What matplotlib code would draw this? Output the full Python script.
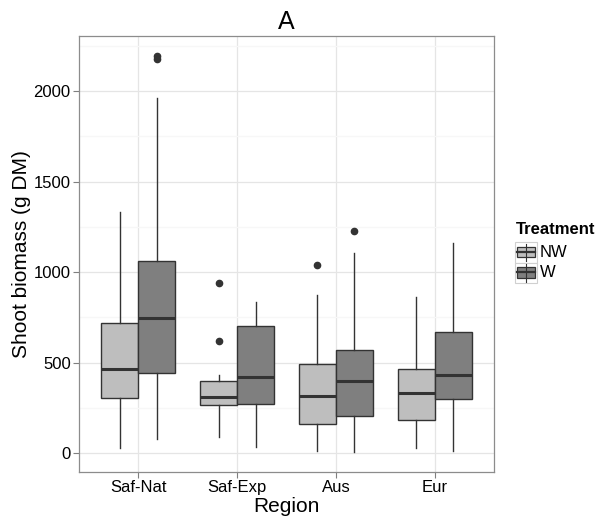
import matplotlib
matplotlib.use("Agg")
import matplotlib.pyplot as plt
from matplotlib.patches import Rectangle
from matplotlib.lines import Line2D

plt.rcParams["font.family"] = ["Liberation Sans", "DejaVu Sans"]

regions = ["Saf-Nat", "Saf-Exp", "Aus", "Eur"]
treatments = ["NW", "W"]
fills = {"NW": "#BEBEBE", "W": "#7F7F7F"}

# five-number summaries per region: (whislo, q1, med, q3, whishi)
nw_stats = [(29, 305, 467, 721, 1333),
            (90, 266, 310, 397, 435),
            (11, 161, 316, 492, 876),
            (29, 184, 331, 465, 865)]
w_stats = [(79, 445, 746, 1063, 1960),
           (35, 275, 422, 701, 837),
           (6, 206, 402, 569, 1104),
           (15, 301, 434, 672, 1161)]
nw_outliers = [[], [619, 940], [1041], []]
w_outliers = [[2176, 2193], [], [1227], []]

W, H = 598, 523
fig = plt.figure(figsize=(W/100, H/100), dpi=100)
L, R, T, B = 79, 494, 36, 472
ax = fig.add_axes([L/W, 1-B/H, (R-L)/W, (B-T)/H])

edge = "#333333"
def draw(stats, outs, offset, color):
    bx = []
    for (lo, q1, med, q3, hi), fl in zip(stats, outs):
        bx.append(dict(whislo=lo, q1=q1, med=med, q3=q3, whishi=hi, fliers=fl))
    pos = [i + 1 + offset for i in range(len(stats))]
    ax.bxp(bx, positions=pos, widths=0.375, patch_artist=True, showcaps=False,
           boxprops=dict(facecolor=color, edgecolor=edge, linewidth=1.0),
           medianprops=dict(color=edge, linewidth=2.2),
           whiskerprops=dict(color=edge, linewidth=1.0),
           flierprops=dict(marker="o", markerfacecolor=edge, markeredgecolor=edge, markersize=4.5),
           manage_ticks=False, zorder=3)

draw(nw_stats, nw_outliers, -0.1875, fills["NW"])
draw(w_stats, w_outliers, 0.1875, fills["W"])

ax.set_xlim(0.4, 4.6)
ax.set_ylim(-103, 2304)
ax.set_xticks(range(1, 5))
ax.set_xticklabels(regions)
ax.set_yticks([0, 500, 1000, 1500, 2000])
ax.set_yticks([250, 750, 1250, 1750, 2250], minor=True)
ax.grid(True, which="major", color="#E5E5E5", linewidth=0.9, zorder=0)
ax.grid(True, which="minor", axis="y", color="#F7F7F7", linewidth=0.9, zorder=0)
ax.set_axisbelow(True)
for s in ax.spines.values():
    s.set_color("#8C8C8C")
    s.set_linewidth(0.9)
ax.tick_params(axis="both", which="major", labelsize=12, colors="#7F7F7F", length=4,
               width=0.8, labelcolor="black", pad=2)
ax.tick_params(axis="y", which="minor", length=0)
ax.set_xlabel("Region", fontsize=15)
ax.set_ylabel("Shoot biomass (g DM)", fontsize=15)
ax.xaxis.set_label_coords(0.5, (B-507)/(B-T))
ax.yaxis.set_label_coords((22-L)/(R-L), 0.5)
ax.xaxis.label.set_va("center")
ax.yaxis.label.set_va("center")
ax.text(0.5, 1+(T-22)/(B-T), "A", transform=ax.transAxes, ha="center", va="center", fontsize=18)

# legend drawn in pixel coordinates on an overlay axes
lax = fig.add_axes([0, 0, 1, 1], zorder=5)
lax.set_xlim(0, W)
lax.set_ylim(H, 0)
lax.axis("off")
lax.text(516, 229, "Treatment", fontsize=12, fontweight="bold", ha="left", va="center")
kx0, kw, kh = 515, 22, 20.5
for i, t in enumerate(treatments):
    ky0 = 242 + i * kh
    lax.add_patch(Rectangle((kx0, ky0), kw, kh, facecolor="white", edgecolor="#D0D0D0", linewidth=0.8))
    cx = kx0 + kw / 2
    lax.add_line(Line2D([cx, cx], [ky0 + 1.5, ky0 + kh - 1.5], color=edge, linewidth=0.8))
    lax.add_patch(Rectangle((kx0 + 2, ky0 + 0.22*kh), kw - 4, 0.52*kh, facecolor=fills[t],
                            edgecolor=edge, linewidth=0.9))
    lax.add_line(Line2D([kx0 + 2, kx0 + kw - 2], [ky0 + 0.48*kh]*2, color=edge, linewidth=1.6))
    lax.text(kx0 + kw + 3, ky0 + kh/2, t, fontsize=12, ha="left", va="center")

fig.savefig("out.png", dpi=100)
